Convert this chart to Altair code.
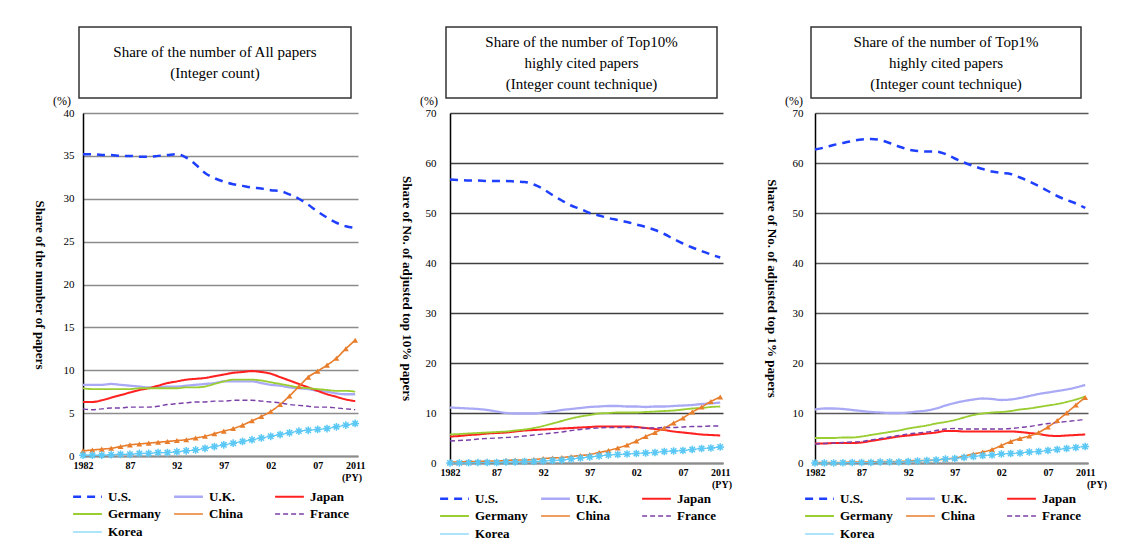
import altair as alt
import pandas as pd

SERIF = "Liberation Serif"

years = list(range(1982, 2012))
countries = ["U.S.", "U.K.", "Japan", "Germany", "China", "France", "Korea"]
colors = ["#1f3fff", "#a9a9f5", "#ff2020", "#9acd32", "#e87d2b", "#7b3fa8", "#5bc8f5"]
dashes = [[8, 6], [1, 0], [1, 0], [1, 0], [1, 0], [5, 3], [1, 0]]
widths = [2.5, 1.2, 1.5, 1.5, 1.5, 2.0, 2.0]

x_tick_values = [1982, 1987, 1992, 1997, 2002, 2007, 2011]
x_tick_labels = ["1982", "87", "92", "97", "02", "07", "2011"]

# Panel 1: share of all papers (integer count)
us1 = [35.2,35.2,35.1,35.1,35.0,35.0,34.9,34.9,35.0,35.1,35.2,34.8,34.0,33.0,32.4,32.0,31.7,31.5,31.3,31.2,31.0,30.9,30.5,30.0,29.3,28.5,27.8,27.2,26.8,26.6]
uk1 = [8.3,8.3,8.3,8.4,8.3,8.2,8.1,8.0,8.0,8.1,8.1,8.2,8.3,8.4,8.5,8.7,8.7,8.7,8.7,8.5,8.3,8.2,8.0,7.9,7.8,7.6,7.5,7.3,7.2,7.2]
jp1 = [6.3,6.3,6.5,6.8,7.1,7.4,7.7,7.9,8.2,8.5,8.7,8.9,9.0,9.1,9.3,9.5,9.7,9.8,9.9,9.8,9.6,9.2,8.8,8.4,8.0,7.6,7.2,6.9,6.6,6.4]
de1 = [7.9,7.8,7.8,7.8,7.8,7.8,7.9,7.9,7.9,7.9,7.9,8.0,8.0,8.1,8.4,8.7,8.9,8.9,8.9,8.8,8.6,8.4,8.2,8.0,7.9,7.8,7.7,7.6,7.6,7.5]
cn1 = [0.6,0.7,0.8,0.9,1.1,1.3,1.4,1.5,1.6,1.7,1.8,1.9,2.1,2.3,2.6,2.9,3.2,3.6,4.1,4.6,5.2,6.0,7.0,8.1,9.2,9.9,10.6,11.4,12.5,13.5]
fr1 = [5.5,5.4,5.5,5.6,5.6,5.7,5.7,5.7,5.8,6.0,6.1,6.2,6.3,6.3,6.4,6.4,6.5,6.5,6.5,6.4,6.3,6.2,6.0,5.9,5.8,5.7,5.7,5.6,5.5,5.4]
kr1 = [0.1,0.1,0.1,0.15,0.2,0.2,0.3,0.3,0.4,0.4,0.5,0.6,0.7,0.9,1.1,1.3,1.5,1.7,1.9,2.1,2.3,2.5,2.7,2.9,3.0,3.1,3.2,3.4,3.6,3.8]

# Panel 2: top10% highly cited papers
us2 = [56.7,56.6,56.5,56.5,56.4,56.4,56.4,56.3,56.2,55.7,54.8,53.6,52.5,51.5,50.8,50.0,49.5,49.0,48.6,48.2,47.7,47.2,46.6,45.8,44.8,43.9,43.1,42.4,41.7,41.1]
uk2 = [11.1,11.0,10.9,10.8,10.6,10.3,10.0,9.9,9.9,9.9,10.1,10.3,10.6,10.8,11.0,11.2,11.3,11.4,11.4,11.3,11.3,11.2,11.3,11.3,11.4,11.5,11.6,11.8,11.9,12.1]
jp2 = [5.3,5.4,5.6,5.7,5.9,6.0,6.1,6.3,6.5,6.6,6.7,6.8,6.9,7.0,7.1,7.2,7.3,7.3,7.3,7.3,7.2,7.0,6.8,6.6,6.3,6.1,5.9,5.7,5.6,5.5]
de2 = [5.7,5.8,5.9,6.0,6.1,6.2,6.3,6.5,6.7,7.0,7.4,7.9,8.4,8.9,9.3,9.6,9.9,10.0,10.1,10.1,10.1,10.2,10.3,10.4,10.5,10.7,10.9,11.0,11.2,11.3]
cn2 = [0.2,0.2,0.3,0.3,0.4,0.4,0.5,0.6,0.6,0.7,0.9,1.0,1.1,1.3,1.5,1.7,2.1,2.5,3.0,3.6,4.4,5.3,6.1,7.0,8.0,9.0,10.2,11.2,12.3,13.2]
fr2 = [4.4,4.5,4.6,4.8,4.9,5.0,5.1,5.2,5.4,5.6,5.8,6.0,6.2,6.5,6.7,6.9,7.0,7.1,7.1,7.1,7.1,7.0,7.0,7.1,7.1,7.2,7.3,7.3,7.4,7.4]
kr2 = [0.0,0.0,0.05,0.1,0.1,0.1,0.2,0.2,0.3,0.3,0.4,0.5,0.6,0.8,1.0,1.2,1.4,1.6,1.7,1.8,1.9,2.0,2.1,2.3,2.4,2.5,2.7,2.9,3.0,3.2]

# Panel 3: top1% highly cited papers
us3 = [62.7,63.1,63.6,64.0,64.4,64.7,64.8,64.6,64.0,63.3,62.7,62.4,62.3,62.3,61.8,60.9,60.1,59.4,58.8,58.3,58.0,57.8,57.1,56.3,55.4,54.4,53.4,52.6,51.9,51.0]
uk3 = [10.7,10.9,10.9,10.8,10.6,10.4,10.2,10.1,10.0,10.0,10.1,10.3,10.5,10.9,11.5,12.0,12.4,12.7,12.9,12.8,12.6,12.7,13.0,13.4,13.8,14.1,14.4,14.7,15.1,15.6]
jp3 = [3.9,3.9,4.0,4.0,4.0,4.1,4.4,4.7,5.0,5.3,5.5,5.7,5.9,6.1,6.4,6.4,6.3,6.3,6.3,6.3,6.3,6.3,6.2,6.0,5.8,5.5,5.4,5.5,5.6,5.7]
de3 = [5.0,5.0,5.0,5.1,5.1,5.3,5.6,5.9,6.2,6.5,6.9,7.2,7.5,7.9,8.2,8.6,9.1,9.6,9.9,10.1,10.2,10.4,10.7,10.9,11.2,11.5,11.8,12.2,12.7,13.3]
cn3 = [0.1,0.1,0.1,0.1,0.2,0.2,0.2,0.3,0.3,0.3,0.4,0.5,0.5,0.6,0.8,1.0,1.4,1.8,2.2,2.7,3.5,4.3,4.9,5.4,6.1,7.2,8.5,10.0,11.6,13.1]
fr3 = [3.8,3.9,4.0,4.1,4.2,4.3,4.6,4.9,5.2,5.5,5.8,6.0,6.2,6.5,6.8,6.9,6.8,6.8,6.8,6.8,6.8,6.9,7.1,7.3,7.6,7.9,8.1,8.3,8.5,8.7]
kr3 = [0.0,0.0,0.0,0.05,0.1,0.1,0.1,0.2,0.2,0.2,0.3,0.4,0.5,0.6,0.8,0.9,1.1,1.3,1.5,1.6,1.8,1.9,2.0,2.2,2.3,2.5,2.7,2.9,3.1,3.3]

titles = [
    ["Share of the number of All papers", "(Integer count)"],
    ["Share of the number of  Top10%", "highly cited papers", "(Integer count technique)"],
    ["Share of the number of Top1%", "highly cited papers", "(Integer count technique)"],
]
y_titles = [
    "Share of the number of papers",
    "Share of No. of adjusted top 10% papers",
    "Share of No. of adjusted top 1% papers",
]

ASTERISK = "M-1,0L1,0M0,-1L0,1M-0.7,-0.7L0.7,0.7M-0.7,0.7L0.7,-0.7"
LEGEND_LINE = "M-1.6,0L1.6,0"
LINE_H = 21

label_expr = "".join(
    f"datum.value == {v} ? '{l}' : " for v, l in zip(x_tick_values, x_tick_labels)
) + "''"


def long_df(series):
    rows = []
    for c, vals in zip(countries, series):
        for y, v in zip(years, vals):
            rows.append({"Year": y, "Share": v, "Country": c})
    return pd.DataFrame(rows)


def panel(series, w, h, ymax, ystep, ytitle, box_lines, grid_color, label_pad, py_x, box_w, leg_dy):
    df = long_df(series)
    legend = alt.Legend(
        orient="none", legendX=-6, legendY=h + leg_dy, columns=3, direction="horizontal",
        title=None, symbolType=LEGEND_LINE, symbolSize=324, labelFont=SERIF,
        labelFontSize=13, labelFontWeight="bold", labelColor="black", gridAlign="all",
        columnPadding=8, rowPadding=0, labelOffset=10,
    )
    x = alt.X(
        "Year:Q",
        scale=alt.Scale(domain=[1982, 2011.3], nice=False, zero=False),
        axis=alt.Axis(
            values=x_tick_values, labelExpr=label_expr, title=None, grid=False,
            ticks=False, domainColor="#8c8c8c", domainWidth=2, labelFont=SERIF,
            labelFontSize=10, labelFontWeight="bold", labelPadding=4,
            labelColor="black", labelFlush=False,
        ),
    )
    y = alt.Y(
        "Share:Q",
        scale=alt.Scale(domain=[0, ymax], nice=False),
        axis=alt.Axis(
            values=list(range(0, ymax + 1, ystep)), grid=True, gridColor=grid_color,
            gridWidth=1.6, ticks=False, domainColor="black", domainWidth=1.5,
            labelFont=SERIF, labelFontSize=11, labelPadding=label_pad,
            labelColor="black", title=ytitle, titleAngle=90, titleFont=SERIF,
            titleFontSize=13, titleFontWeight="bold", titleX=-44, titleY=h / 2,
            titleAlign="center", titleBaseline="middle", titleColor="black",
        ),
    )
    base = alt.Chart(df)
    lines = base.mark_line(interpolate="monotone").encode(
        x=x, y=y,
        color=alt.Color("Country:N", scale=alt.Scale(domain=countries, range=colors), legend=legend),
        strokeDash=alt.StrokeDash("Country:N", scale=alt.Scale(domain=countries, range=dashes), legend=legend),
        strokeWidth=alt.StrokeWidth("Country:N", scale=alt.Scale(domain=countries, range=widths), legend=legend),
    )
    china = base.transform_filter(alt.datum.Country == "China").mark_point(
        shape="triangle-up", filled=True, size=34, color=colors[4], opacity=1
    ).encode(x=x, y=y)
    korea = base.transform_filter(alt.datum.Country == "Korea").mark_point(
        shape=ASTERISK, filled=False, size=60, color=colors[6], strokeWidth=1.5, opacity=1
    ).encode(x=x, y=y)
    one = pd.DataFrame({"k": [0]})
    box = alt.Chart(one).mark_rect(fill="white", stroke="#333333", strokeWidth=1.5).encode(
        x=alt.value(-4), x2=alt.value(box_w - 4), y=alt.value(-86), y2=alt.value(-15)
    )
    first_y = -50.5 - (len(box_lines) - 1) * LINE_H / 2
    box_text = alt.Chart(one).mark_text(
        text=box_lines, font=SERIF, fontSize=15, lineHeight=LINE_H, align="center",
        baseline="middle", color="black",
    ).encode(x=alt.value(box_w / 2 - 4), y=alt.value(first_y))
    pct = alt.Chart(one).mark_text(
        text="(%)", font=SERIF, fontSize=12, align="center", baseline="middle", color="black"
    ).encode(x=alt.value(-21), y=alt.value(-12))
    py = alt.Chart(one).mark_text(
        text="(PY)", font=SERIF, fontSize=10, fontWeight="bold", align="center",
        baseline="middle", color="black",
    ).encode(x=alt.value(py_x), y=alt.value(h + 22))
    return alt.layer(box, box_text, pct, py, lines, china, korea).properties(width=w, height=h)


p1 = panel([us1, uk1, jp1, de1, cn1, fr1, kr1], 275, 343, 40, 5, y_titles[0], titles[0], "#8c8c8c", 9, 269, 272, 30)
p2 = panel([us2, uk2, jp2, de2, cn2, fr2, kr2], 273, 350, 70, 10, y_titles[1], titles[1], "#404040", 14, 272, 271, 25)
p3 = panel([us3, uk3, jp3, de3, cn3, fr3, kr3], 273, 350, 70, 10, y_titles[2], titles[2], "#595959", 12, 282, 270, 25)

chart = (
    alt.hconcat(p1, p2, p3, spacing=92, bounds="flush")
    .resolve_scale(x="independent", y="independent", color="independent",
                   strokeDash="independent", strokeWidth="independent")
    .resolve_legend(color="independent", strokeDash="independent", strokeWidth="independent")
    .properties(padding={"left": 24, "top": 18, "right": 5, "bottom": 5}, background="white")
    .configure_view(stroke=None)
)

chart.save("out.html", embed_options={"renderer": "svg", "actions": False})
